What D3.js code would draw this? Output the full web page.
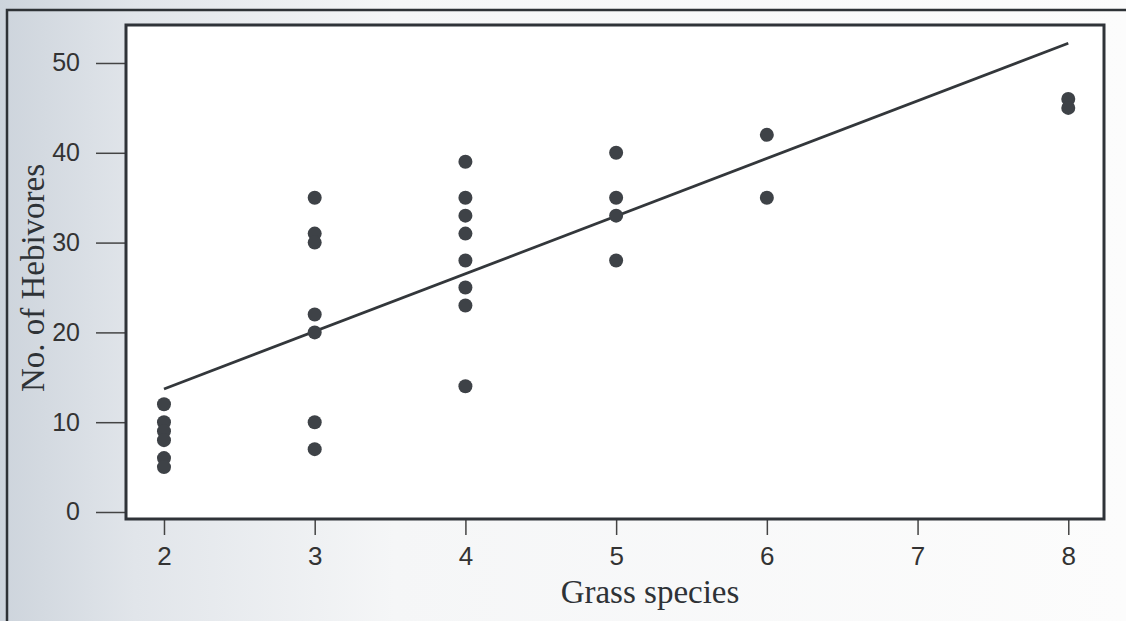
<!DOCTYPE html>
<html>
<head>
<meta charset="utf-8">
<script src="https://cdn.jsdelivr.net/npm/d3@7"></script>
<style>
  html, body { margin: 0; padding: 0; background: #fff; }
  svg { display: block; }
</style>
</head>
<body>
<svg id="chart" width="1126" height="621"></svg>
<script>
// ---- data ----
const grassSpecies = [2,2,2,2,2,2, 3,3,3,3,3,3,3, 4,4,4,4,4,4,4,4, 5,5,5,5, 6,6, 8,8];
const herbivores   = [12,10,9,8,6,5, 35,31,30,22,20,10,7, 39,35,33,31,28,25,23,14, 40,35,33,28, 42,35, 46,45];
const fitX = [2, 8];
const fitY = [13.7, 52.2];
const xTicks = [2,3,4,5,6,7,8];
const yTicks = [0,10,20,30,40,50];
const xTitle = "Grass species";
const yTitle = "No. of Hebivores";

const svg = d3.select("#chart");

// background like scanned page
const defs = svg.append("defs");
const grad = defs.append("linearGradient").attr("id","bg").attr("x1","0").attr("x2","1").attr("y1","0").attr("y2","0");
grad.append("stop").attr("offset","0").attr("stop-color","#cdd4dc");
grad.append("stop").attr("offset","0.12").attr("stop-color","#e1e5ea");
grad.append("stop").attr("offset","0.35").attr("stop-color","#f5f6f7");
grad.append("stop").attr("offset","1").attr("stop-color","#fcfcfc");
svg.append("rect").attr("width",1126).attr("height",621).attr("fill","url(#bg)");

// outer frame lines (top and left)
svg.append("path").attr("d","M7,621 L7,10 L1126,10").attr("fill","none").attr("stroke","#2e3236").attr("stroke-width",2.5);

const L = 126, T = 25, R = 1104, B = 519;
const x = d3.scaleLinear().domain([1.748, 8.237]).range([L, R]);
const y = d3.scaleLinear().domain([-0.78, 54.23]).range([B, T]);

svg.append("rect").attr("x",L).attr("y",T).attr("width",R-L).attr("height",B-T).attr("fill","#ffffff");

// y axis
const yAxis = svg.append("g").attr("transform",`translate(${L},0)`)
  .call(d3.axisLeft(y).tickValues(yTicks).tickSize(30).tickPadding(16).tickFormat(d3.format("d")));
yAxis.select(".domain").remove();
yAxis.selectAll("line").attr("stroke","#444").attr("stroke-width",1.5);
yAxis.selectAll("text").attr("font-family","Liberation Sans, Arial, sans-serif").attr("font-size",25).attr("fill","#333");

// x axis
const xAxis = svg.append("g").attr("transform",`translate(0,${B})`)
  .call(d3.axisBottom(x).tickValues(xTicks).tickSize(16).tickPadding(12).tickFormat(d3.format("d")));
xAxis.select(".domain").remove();
xAxis.selectAll("line").attr("stroke","#444").attr("stroke-width",1.5);
xAxis.selectAll("text").attr("font-family","Liberation Sans, Arial, sans-serif").attr("font-size",26).attr("fill","#333");

// plot box
svg.append("rect").attr("x",L).attr("y",T).attr("width",R-L).attr("height",B-T)
  .attr("fill","none").attr("stroke","#2f3338").attr("stroke-width",3);

// fit line
svg.append("path").datum(fitX.map((d,i)=>[d,fitY[i]]))
  .attr("d", d3.line().x(d=>x(d[0])).y(d=>y(d[1])))
  .attr("fill","none").attr("stroke","#33373b").attr("stroke-width",2.8);

// points
svg.append("g").selectAll("circle").data(grassSpecies.map((d,i)=>[d,herbivores[i]]))
  .join("circle")
  .attr("cx",d=>x(d[0])).attr("cy",d=>y(d[1])).attr("r",7)
  .attr("fill","#3e4247");

// titles
svg.append("text").attr("x",650).attr("y",603).attr("text-anchor","middle")
  .attr("font-family","Liberation Serif, Times New Roman, serif").attr("font-size",33).attr("fill","#2e3236")
  .text(xTitle);
svg.append("text").attr("transform","translate(44,278) rotate(-90)").attr("text-anchor","middle")
  .attr("font-family","Liberation Serif, Times New Roman, serif").attr("font-size",33).attr("fill","#2e3236")
  .text(yTitle);
</script>
</body>
</html>
